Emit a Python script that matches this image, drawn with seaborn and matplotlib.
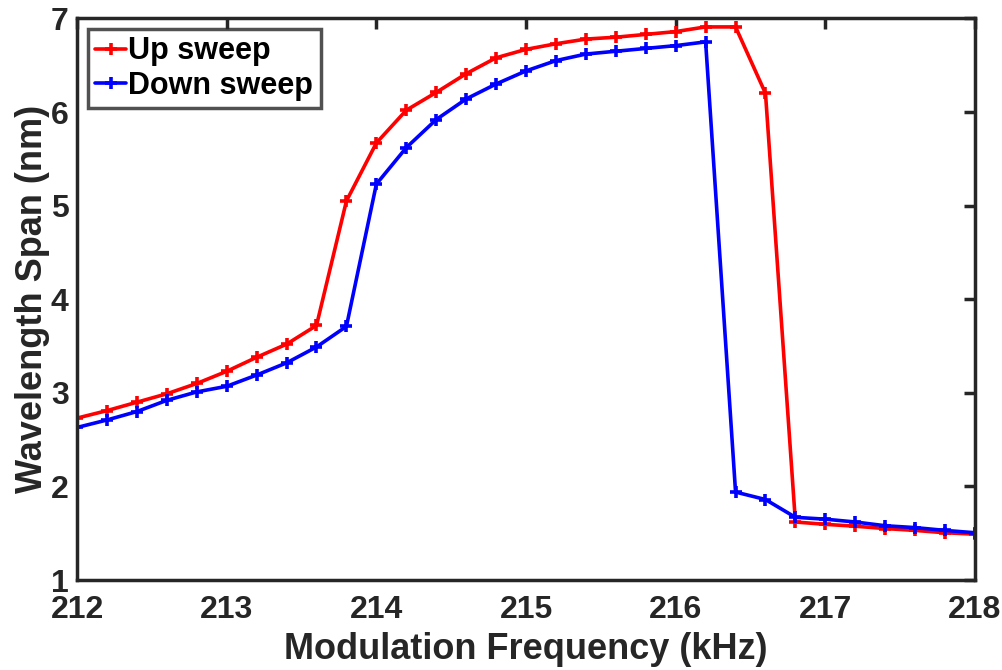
import numpy as np
import pandas as pd
import matplotlib
matplotlib.use("Agg")
import matplotlib.pyplot as plt
import seaborn as sns

freq = [212.0, 212.2, 212.4, 212.6, 212.8, 213.0, 213.2, 213.4, 213.6, 213.8,
        214.0, 214.2, 214.4, 214.6, 214.8, 215.0, 215.2, 215.4, 215.6, 215.8,
        216.0, 216.2, 216.4, 216.6, 216.8, 217.0, 217.2, 217.4, 217.6, 217.8, 218.0]
up_sweep = [2.73, 2.81, 2.90, 2.99, 3.10, 3.23, 3.38, 3.52, 3.72, 5.05,
            5.67, 6.02, 6.21, 6.41, 6.58, 6.67, 6.73, 6.78, 6.80, 6.83,
            6.86, 6.91, 6.91, 6.20, 1.62, 1.595, 1.575, 1.55, 1.53, 1.505, 1.49]
down_sweep = [2.63, 2.71, 2.80, 2.92, 3.01, 3.07, 3.19, 3.32, 3.49, 3.71,
              5.23, 5.62, 5.92, 6.14, 6.30, 6.44, 6.55, 6.62, 6.65, 6.68,
              6.71, 6.75, 1.94, 1.86, 1.67, 1.65, 1.62, 1.58, 1.56, 1.53, 1.505]
series_names = ["Up sweep", "Down sweep"]
series_colors = ["#ff0000", "#0000ff"]
x_ticks = [212, 213, 214, 215, 216, 217, 218]
y_ticks = [1, 2, 3, 4, 5, 6, 7]

sns.set_theme(style="white")
plt.rcParams['font.family'] = ['Liberation Sans', 'DejaVu Sans']
plt.rcParams['font.weight'] = 'bold'

df = pd.DataFrame({
    "freq": freq * 2,
    "span": up_sweep + down_sweep,
    "sweep": [series_names[0]] * len(freq) + [series_names[1]] * len(freq),
})

fig = plt.figure(figsize=(10.03, 6.70), dpi=100)
ax = fig.add_axes([0.0768, 0.1343, 0.8953, 0.8381])

for name, col in zip(series_names, series_colors):
    sns.lineplot(data=df[df["sweep"] == name], x="freq", y="span", ax=ax,
                 color=col, linewidth=2.6, marker="+", markersize=9,
                 markeredgewidth=2.6, markeredgecolor=col, markerfacecolor=col,
                 label=name, estimator=None, sort=False)

ax.set_xlim(212, 218)
ax.set_ylim(1, 7)
ax.set_xticks(x_ticks)
ax.set_yticks(y_ticks)
ax.tick_params(direction="in", length=8, width=2.5, labelsize=23, top=True, right=True,
               colors="#262626", labelcolor="#262626")
ax.tick_params(axis="x", pad=11)
ax.tick_params(axis="y", pad=6)
for lab in ax.get_xticklabels() + ax.get_yticklabels():
    lab.set_fontweight("bold")
for s in ax.spines.values():
    s.set_linewidth(2.5)
    s.set_color("#262626")
    s.set_visible(True)
ax.set_xlabel("Modulation Frequency (kHz)", fontsize=26, fontweight="bold", color="#262626", labelpad=5)
ax.set_ylabel("Wavelength Span (nm)", fontsize=26, fontweight="bold", color="#262626", labelpad=1)

leg = ax.legend(loc="upper left", bbox_to_anchor=(0.012, 0.982), fontsize=22, frameon=True,
                fancybox=False, edgecolor="#262626", handlelength=1.0, handletextpad=0.08,
                borderpad=0.25, labelspacing=0.15, borderaxespad=0)
leg.get_frame().set_linewidth(2.5)
for t in leg.get_texts():
    t.set_fontweight("bold")
    t.set_color("black")

fig.savefig("out.png", dpi=100)
